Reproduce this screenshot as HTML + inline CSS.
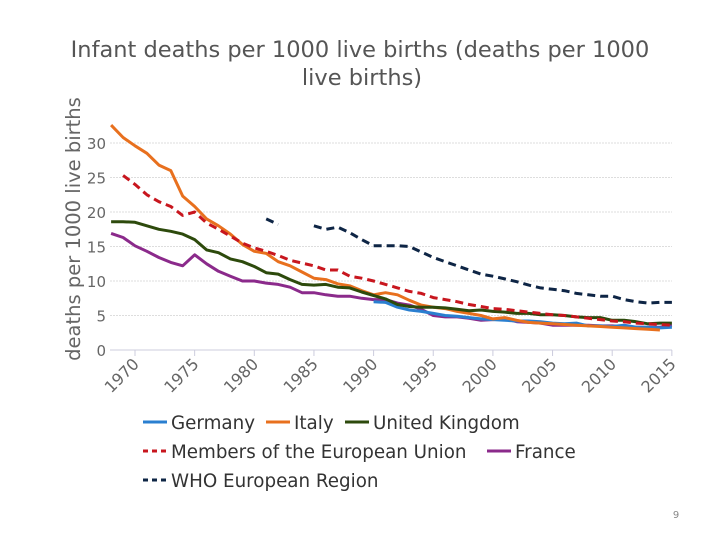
<!DOCTYPE html>
<html><head><meta charset="utf-8"><style>
body{margin:0;background:#fff;}
svg{display:block;font-family:"DejaVu Sans","Liberation Sans",sans-serif;}
</style></head><body>
<svg id="chart" width="720" height="540">
<text x="360" y="57" text-anchor="middle" font-size="22.5" fill="#555">Infant deaths per 1000 live births (deaths per 1000</text>
<text x="362" y="85" text-anchor="middle" font-size="22.5" fill="#555">live births)</text>
<text transform="translate(80,229) rotate(-90)" text-anchor="middle" font-size="19.5" fill="#666">deaths per 1000 live births</text>
<g id="grid"></g><g id="xaxis"></g><g id="series"></g>
<g id="legend" font-size="18.3" fill="#333"></g>
<text x="676" y="518" font-size="10" fill="#888" text-anchor="middle">9</text>
</svg>
<script>
const years=[];for(let y=1968;y<=2015;y++)years.push(y);
const yTicks=[0,5,10,15,20,25,30];
const xTicks=[1970,1975,1980,1985,1990,1995,2000,2005,2010,2015];
const italy=[32.6,30.8,29.6,28.5,26.8,26.0,22.3,20.8,19.0,18.0,16.8,15.3,14.3,14.0,12.8,12.2,11.3,10.4,10.2,9.6,9.3,8.6,8.0,8.3,8.0,7.2,6.5,6.2,6.0,5.6,5.3,5.0,4.5,4.7,4.3,4.0,3.9,3.8,3.7,3.6,3.5,3.4,3.3,3.2,3.1,3.0,2.9,null];
const eu=[null,null,25.3,24.0,22.5,21.5,20.8,19.5,20.0,18.4,17.5,16.5,15.5,14.8,14.3,13.7,13.0,12.6,12.2,11.6,11.6,10.7,10.4,10.0,9.5,9.0,8.5,8.2,7.6,7.3,7.0,6.6,6.3,6.0,5.9,5.7,5.5,5.3,5.1,5.0,4.8,4.6,4.4,4.2,4.1,3.9,3.8,3.7].slice(1).concat([3.6]);
const uk=[18.6,18.6,18.5,18.0,17.5,17.2,16.8,16.0,14.5,14.1,13.2,12.8,12.1,11.2,11.0,10.2,9.5,9.4,9.5,9.1,9.0,8.4,7.9,7.4,6.6,6.3,6.2,6.2,6.1,5.9,5.7,5.8,5.6,5.5,5.3,5.3,5.1,5.1,5.0,4.8,4.7,4.7,4.3,4.3,4.1,3.8,3.9,3.9];
const france=[16.9,16.3,15.1,14.3,13.4,12.7,12.2,13.8,12.5,11.4,10.7,10.0,10.0,9.7,9.5,9.1,8.3,8.3,8.0,7.8,7.8,7.5,7.3,7.3,6.8,6.5,5.9,5.0,4.8,4.8,4.6,4.3,4.4,4.5,4.1,4.0,3.9,3.6,3.6,3.6,3.6,3.5,3.5,3.4,3.3,3.3,3.3,3.6];
const germany=[null,null,null,null,null,null,null,null,null,null,null,null,null,null,null,null,null,null,null,null,null,null,7.0,6.9,6.2,5.8,5.6,5.3,5.0,4.9,4.7,4.5,4.4,4.3,4.2,4.2,4.1,3.9,3.8,3.9,3.5,3.5,3.4,3.6,3.3,3.3,3.2,3.3];
const who=[null,null,null,null,null,null,null,null,null,null,null,null,null,19.0,18.2,null,null,18.0,17.5,17.8,17.0,16.0,15.1,15.1,15.1,15.0,14.2,13.4,12.8,12.2,11.6,11.0,10.7,10.3,9.9,9.4,9.0,8.8,8.6,8.2,8.0,7.8,7.8,7.3,7.0,6.8,6.9,6.9];
const NS="http://www.w3.org/2000/svg";
const X=y=>135+(y-1970)*11.93, Y=v=>350-v*6.9;
function mk(t,a,p){const e=document.createElementNS(NS,t);for(const k in a)e.setAttribute(k,a[k]);p.appendChild(e);return e;}
const grid=document.getElementById('grid');
yTicks.forEach(v=>{
 const l=mk('line',{x1:110,x2:672,y1:Y(v),y2:Y(v),stroke:v==0?'#ccd':'#ddd','stroke-width':1,'stroke-dasharray':v==0?'':'2,1'},grid);
 
 
 const t=mk('text',{x:106,y:Y(v)+6,'text-anchor':'end','font-size':15,fill:'#666'},grid);t.textContent=v;
 
 
});
const xa=document.getElementById('xaxis');
xTicks.forEach(y=>{
 const l=mk('line',{x1:X(y),x2:X(y),y1:350,y2:356,stroke:'#ccd'},xa);
 
 
 const t=mk('text',{transform:`translate(${X(y)+5},365) rotate(-45)`,'text-anchor':'end','font-size':16,fill:'#666'},xa);t.textContent=y;
 
 
});
const defs=[['germany',germany,'#2a7fd0',''],['italy',italy,'#e8701e',''],['uk',uk,'#2d4a0c',''],['eu',eu,'#c8161e','8,5'],['france',france,'#8b2a8b',''],['who',who,'#0e2545','8,5']];
const sg=document.getElementById('series');
[['france'],['germany'],['italy'],['uk'],['eu'],['who']].forEach(([n])=>{
 const [name,data,col,dash]=defs.find(d=>d[0]==n);
 let d='',pen=false;
 data.forEach((v,i)=>{if(v==null){pen=false;return;}d+=(pen?'L':'M')+X(years[i]).toFixed(1)+','+Y(v).toFixed(1);pen=true;});
 const p=mk('path',{d:d,fill:'none',stroke:col,'stroke-width':3,'stroke-dasharray':dash,'stroke-linejoin':'round'},sg);
 
 
});
const lg=document.getElementById('legend');
const items=[['Germany','#2a7fd0','',143,422],['Italy','#e8701e','',266,422],['United Kingdom','#2d4a0c','',345,422],['Members of the European Union','#c8161e','5,4',143,451],['France','#8b2a8b','',487,451],['WHO European Region','#0e2545','5,4',143,480]];
items.forEach(([t,c,da,x,y])=>{
 const g=mk('g',{},lg);
 
 
 mk('line',{x1:x,x2:x+24,y1:y,y2:y,stroke:c,'stroke-width':3,'stroke-dasharray':da},g);
 const tx=mk('text',{x:x+28,y:y+7},g);tx.textContent=t;
});
</script>
</body></html>
